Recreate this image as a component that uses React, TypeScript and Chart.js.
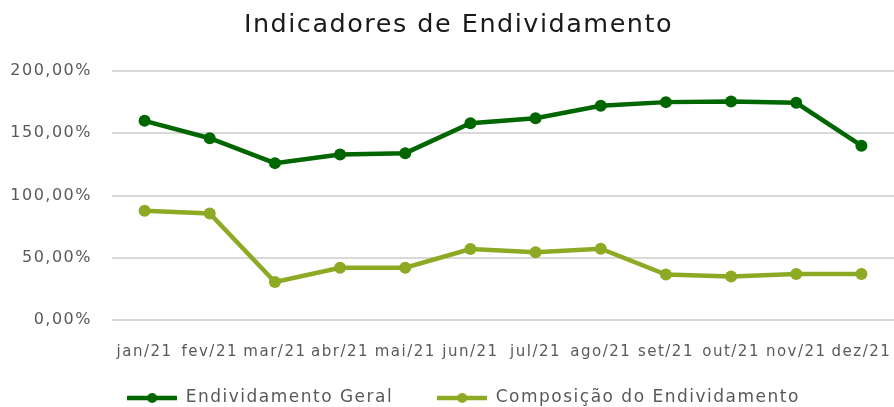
import React, { useEffect, useRef } from "react";
import { Chart, registerables } from "chart.js";

Chart.register(...registerables);

const months = ["jan/21", "fev/21", "mar/21", "abr/21", "mai/21", "jun/21", "jul/21", "ago/21", "set/21", "out/21", "nov/21", "dez/21"];
const endividamentoGeral = [160, 146, 126, 133, 134, 158, 162, 172, 175, 175.5, 174.5, 140];
const composicaoEndividamento = [87.7, 85.6, 30.5, 42, 42, 57, 54.5, 57.3, 36.5, 35, 37, 37];
const yTicks = [0, 50, 100, 150, 200];

const darkGreen = "#006600";
const lightGreen = "#8CAA24";
const FONT = "'DejaVu Sans', sans-serif";
const TEXT = "#595959";

function legendIcon(color: string): HTMLCanvasElement {
  const c = document.createElement("canvas");
  c.width = 50;
  c.height = 12;
  const ctx = c.getContext("2d")!;
  ctx.strokeStyle = color;
  ctx.lineWidth = 4.5;
  ctx.beginPath();
  ctx.moveTo(0, 6);
  ctx.lineTo(50, 6);
  ctx.stroke();
  ctx.fillStyle = color;
  ctx.beginPath();
  ctx.arc(25, 6, 5, 0, Math.PI * 2);
  ctx.fill();
  return c;
}

const spacingPlugin = {
  id: "spacing",
  beforeUpdate(chart: any) {
    (chart.ctx as any).letterSpacing = "1.5px";
  },
  beforeLayout(chart: any) {
    (chart.ctx as any).letterSpacing = "1.5px";
  },
  afterLayout(chart: any) {
    if (chart.legend) {
      chart.legend.left += 16.5;
      chart.legend.right += 16.5;
    }
    if (chart.titleBlock) {
      chart.titleBlock.left += 11.5;
      chart.titleBlock.right += 11.5;
    }
    const x = chart.scales.x;
    if (x) {
      x.bottom = chart.height;
      const gap = chart.width - chart.chartArea.right;
      if (gap > 0) {
        chart.chartArea.right = chart.width;
        chart.chartArea.width += gap;
        x.right = chart.width;
        x.width += gap;
        x.configure();
      }
    }
  },
  beforeDraw(chart: any) {
    (chart.ctx as any).letterSpacing = "1.5px";
  },
};

export default function App() {
  const ref = useRef<HTMLCanvasElement | null>(null);
  useEffect(() => {
    document.body.style.margin = "0";
    const icons = [legendIcon(darkGreen), legendIcon(lightGreen)];
    const chart = new Chart(ref.current!, {
      type: "line",
      data: {
        labels: months,
        datasets: [
          {
            label: "Endividamento Geral",
            data: endividamentoGeral,
            borderColor: darkGreen,
            backgroundColor: darkGreen,
            borderWidth: 4.5,
            pointRadius: 6,
            pointBackgroundColor: darkGreen,
            pointBorderWidth: 0,
            tension: 0,
          },
          {
            label: "Composição do Endividamento",
            data: composicaoEndividamento,
            borderColor: lightGreen,
            backgroundColor: lightGreen,
            borderWidth: 4.5,
            pointRadius: 6,
            pointBackgroundColor: lightGreen,
            pointBorderWidth: 0,
            tension: 0,
          },
        ],
      },
      plugins: [spacingPlugin],
      options: {
        animation: false,
        responsive: false,
        layout: { padding: { left: 0, right: 0, top: 0, bottom: 0 } },
        plugins: {
          title: {
            display: true,
            text: "Indicadores de Endividamento",
            color: "#1a1a1a",
            font: { family: FONT, size: 25.5, weight: "normal", lineHeight: 1.2 },
            padding: { top: 9.7, bottom: 30.7 },
          },
          legend: {
            position: "bottom",
            maxHeight: 61.5,
            labels: {
              usePointStyle: true,
              pointStyleWidth: 50,
              color: TEXT,
              font: { family: FONT, size: 17 },
              padding: 44,
              generateLabels: (chart: any) =>
                chart.data.datasets.map((ds: any, i: number) => ({
                  text: ds.label,
                  pointStyle: icons[i],
                  fillStyle: ds.borderColor,
                  strokeStyle: ds.borderColor,
                  lineWidth: 0,
                  hidden: false,
                  datasetIndex: i,
                  fontColor: TEXT,
                })),
            },
          },
          tooltip: { enabled: false },
        },
        scales: {
          x: {
            offset: true,
            grid: { display: false, drawTicks: false },
            border: { display: false },
            afterFit: (scale: any) => {
              scale.height = 25.5;
              scale.paddingLeft = 0;
              scale.paddingRight = 0;
            },
            ticks: {
              color: TEXT,
              font: { family: FONT, size: 15 },
              maxRotation: 0,
              autoSkip: false,
              padding: 23,
            },
          },
          y: {
            min: 0,
            max: 200,
            afterBuildTicks: (axis: any) => {
              axis.ticks = yTicks.map((v) => ({ value: v }));
            },
            afterFit: (scale: any) => {
              scale.width = 112;
            },
            grid: { color: "#d9d9d9", lineWidth: 2, drawTicks: false },
            border: { display: false },
            ticks: {
              color: TEXT,
              font: { family: FONT, size: 16 },
              padding: 20,
              callback: (v: any) => Number(v).toFixed(2).replace(".", ",") + "%",
            },
          },
        },
      },
    });
    return () => chart.destroy();
  }, []);
  return (
    <div style={{ width: 894, height: 407 }}>
      <canvas ref={ref} width={894} height={407} />
    </div>
  );
}
